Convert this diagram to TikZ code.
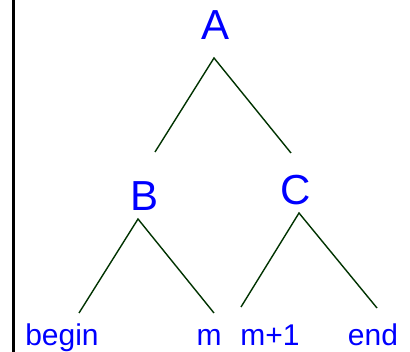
\documentclass[tikz,border=0pt]{standalone}
\usepackage{fontspec}
\setmainfont{Liberation Sans}
\definecolor{txtblue}{HTML}{0000FF}
\definecolor{edgegreen}{HTML}{003300}
\begin{document}
\begin{tikzpicture}[x=1pt,y=-1pt,
  big/.style={text=txtblue,font=\fontsize{42}{42}\selectfont,anchor=base,inner sep=0pt},
  small/.style={text=txtblue,font=\fontsize{30}{30}\selectfont,anchor=base,inner sep=0pt},
  edge/.style={draw=edgegreen,line width=1.4pt},
  rule/.style={draw=black,line width=3pt}]
\fill[white] (0,0) rectangle (410,352);
\useasboundingbox (0,0) rectangle (410,352);
% vertical rule
\coordinate (rt) at (13.5,0);
\coordinate (rb) at (13.5,352);
\draw[rule] (rt) -- (rb);
% nodes
\node[big] (A) at (216,40) {A};
\node[big] (B) at (145,211) {B};
\node[big] (C) at (296,205) {C};
\node[small] (begin) at (62,346) {begin};
\node[small] (m) at (209,346) {m};
\node[small] (m1) at (270,346) {m+1};
\node[small] (end) at (373,346) {end};
% connector end points
\coordinate (Ab) at (214,58);
\coordinate (Bt) at (155,152);
\coordinate (Ct) at (291,153);
\coordinate (Bb) at (138,219);
\coordinate (begint) at (79,313);
\coordinate (mt) at (214,313);
\coordinate (Cb) at (299,213);
\coordinate (m1t) at (241,307);
\coordinate (endt) at (377,308);
% connectors
\draw[edge] (Bt) -- (Ab) -- (Ct);
\draw[edge] (begint) -- (Bb) -- (mt);
\draw[edge] (m1t) -- (Cb) -- (endt);
\end{tikzpicture}
\end{document}
